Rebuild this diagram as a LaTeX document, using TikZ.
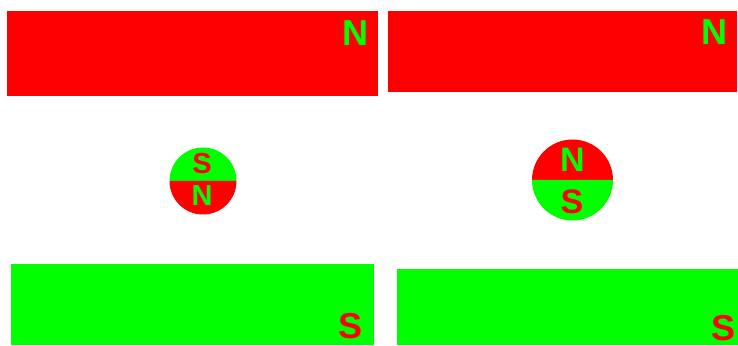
\documentclass[tikz,border=0pt]{standalone}
\usepackage{fontspec}
\setmainfont{Liberation Sans}
\usepackage{xcolor}
\usetikzlibrary{calc,positioning}
\definecolor{polered}{RGB}{255,0,0}
\definecolor{polegreen}{RGB}{0,255,0}
\tikzset{
  magnet/.style={rectangle, inner sep=0pt, outer sep=0pt},
  bigpole/.style={inner sep=0pt, font=\fontsize{36}{36}\selectfont\bfseries},
  midpole/.style={inner sep=0pt, font=\fontsize{34}{34}\selectfont\bfseries},
  smallpole/.style={inner sep=0pt, font=\fontsize{29}{29}\selectfont\bfseries}
}

\begin{document}
\begin{tikzpicture}[x=1pt, y=1pt]
  \useasboundingbox (0,0) rectangle (738,345);

  % left case
  \node[magnet, fill=polered, minimum width=371pt, minimum height=85pt] (topL) at (192.5,291.5) {};
  \node[magnet, fill=polegreen, minimum width=363pt, minimum height=81pt] (botL) at (192.5,40.5) {};
  \node[bigpole, text=polegreen] (nTL) at (355,312) {N};
  \node[bigpole, text=polered] (sBL) at (351,18.5) {S};

  \coordinate (cL) at (203,164);
  \fill[polegreen] ($(cL)+(-33.5,0)$) arc (180:0:33.5) -- cycle;
  \fill[polered] ($(cL)+(-33.5,0)$) arc (180:360:33.5) -- cycle;
  \node[smallpole, text=polered] (sL) at (202,181) {S};
  \node[smallpole, text=polegreen] (nL) at (202,149) {N};

  % right case
  \node[magnet, fill=polered, minimum width=349pt, minimum height=81pt] (topR) at (562.5,293.5) {};
  \node[magnet, fill=polegreen, minimum width=341pt, minimum height=76pt] (botR) at (567.5,38) {};
  \node[bigpole, text=polegreen] (nTR) at (714,313) {N};
  \node[bigpole, text=polered] (sBR) at (723.5,17) {S};

  \coordinate (cR) at (572.5,165);
  \fill[polered] ($(cR)+(-40.5,0)$) arc (180:0:40.5) -- cycle;
  \fill[polegreen] ($(cR)+(-40.5,0)$) arc (180:360:40.5) -- cycle;
  \node[midpole, text=polegreen] (nR) at (572.5,185) {N};
  \node[midpole, text=polered] (sR) at (572,143.5) {S};
\end{tikzpicture}
\end{document}
